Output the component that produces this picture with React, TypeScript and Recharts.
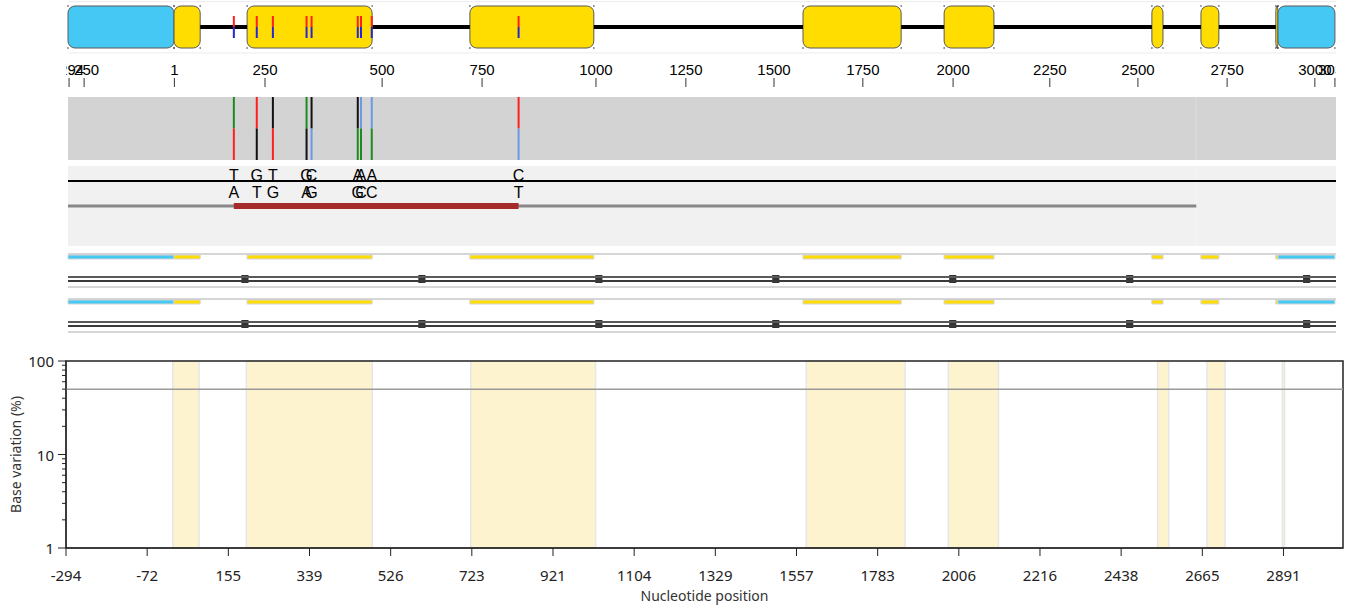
import React from 'react';
import {
  ComposedChart,
  XAxis,
  YAxis,
  ReferenceArea,
  ReferenceLine,
  ReferenceDot,
  Label,
} from 'recharts';

// every track shares one x scale: alignment columns (gaps included)
const ALIGN_END = 3540;

const utrExons: [number, number][] = [[0, 296], [3378, 3537]];
const cdsExons: [number, number][] = [
  [296, 369], [500, 849], [1122, 1468], [2052, 2326],
  [2446, 2585], [3026, 3057], [3163, 3213], [3372, 3378],
];

const variantCols = [463, 527, 572, 666, 680, 809, 818, 848, 1258];
const refBases = ['T', 'G', 'T', 'G', 'C', 'A', 'A', 'A', 'C'];
const altBases = ['A', 'T', 'G', 'A', 'G', 'G', 'C', 'C', 'T'];

// last aligned column of the read
const readEnd = 3150;

const rulerCols = [3, 45, 297, 550, 877, 1156, 1474, 1725, 1971, 2219, 2471, 2741, 2987, 3236, 3481, 3537];
const rulerLabels = ['-294', '-250', '1', '250', '500', '750', '1000', '1250', '1500', '1750', '2000', '2250', '2500', '2750', '3000', '3030'];

const blockMarks = [494, 988, 1482, 1976, 2470, 2964, 3458];

const posCols = [0, 225, 450, 675, 900, 1125, 1350, 1575, 1800, 2025, 2250, 2475, 2700, 2925, 3150, 3375];
const posLabels = ['-294', '-72', '155', '339', '526', '723', '921', '1104', '1329', '1557', '1783', '2006', '2216', '2438', '2665', '2891'];

const yTicks = [1, 2, 3, 4, 5, 6, 7, 8, 9, 10, 20, 30, 40, 50, 60, 70, 80, 90, 100];
const yMajor = [1, 10, 100];
const variationCutoff = 50;

const W = 1349;
const YELLOW = '#ffdd00';
const BLUE = '#45c8f3';
const ARIAL = '"Liberation Sans", Arial, sans-serif';
const baseColor: Record<string, string> = { A: '#1f8a1f', C: '#6d98e6', G: '#111111', T: '#ff1f1f' };

const exons = [
  ...utrExons.map(([s, e]) => ({ s, e, fill: BLUE })),
  ...cdsExons.map(([s, e]) => ({ s, e, fill: YELLOW })),
].sort((a, b) => a.s - b.s);

const introns = exons.slice(1)
  .map((ex, i) => [exons[i].e, ex.s])
  .filter(([a, b]) => b > a);

const roundedBox = (fill: string) => (p: any) => (
  <rect
    x={p.x}
    y={p.y}
    width={p.width}
    height={p.height}
    rx={Math.min(7, p.width / 2)}
    ry={7}
    fill={fill}
    stroke="#5a5a5a"
    strokeWidth={1}
  />
);

const letter = (base: string) => (p: any) => (
  <text x={p.cx} y={p.cy} textAnchor="middle" dominantBaseline="central" fontSize={16} fill="#000">
    {base}
  </text>
);

const hiddenAxes = (
  <>
    <XAxis type="number" dataKey="col" domain={[0, ALIGN_END]} hide allowDataOverflow />
    <YAxis type="number" domain={[0, 1]} hide allowDataOverflow />
  </>
);

const trackMargin = { top: 0, right: 13, bottom: 0, left: 68 };

function GeneModel() {
  return (
    <ComposedChart width={W} height={54} margin={trackMargin}>
      {hiddenAxes}
      <ReferenceLine y={0.97} stroke="#ececec" />
      <ReferenceLine y={0.02} stroke="#ececec" />
      {introns.map(([a, b]) => (
        <ReferenceLine key={`i${a}`} segment={[{ x: a, y: 0.5 }, { x: b, y: 0.5 }]} stroke="#000" strokeWidth={4} />
      ))}
      {exons.map((ex) => (
        <ReferenceArea key={`e${ex.s}`} x1={ex.s} x2={ex.e} y1={0.111} y2={0.889} shape={roundedBox(ex.fill)} />
      ))}
      {exons.flatMap((ex) => [ex.s, ex.e]).flatMap((c, i) => [
        <ReferenceDot key={`dt${i}`} x={c} y={0.889} r={0.8} fill="#333" stroke="none" />,
        <ReferenceDot key={`db${i}`} x={c} y={0.111} r={0.8} fill="#333" stroke="none" />,
      ])}
      {variantCols.flatMap((c) => [
        <ReferenceLine key={`vr${c}`} segment={[{ x: c, y: 0.5 }, { x: c, y: 0.704 }]} stroke="#ff2020" strokeWidth={2} />,
        <ReferenceLine key={`vb${c}`} segment={[{ x: c, y: 0.296 }, { x: c, y: 0.5 }]} stroke="#2626d9" strokeWidth={2} />,
      ])}
    </ComposedChart>
  );
}

function Ruler() {
  return (
    <ComposedChart width={W} height={40} margin={{ top: 2, right: 13, bottom: 0, left: 68 }}>
      <XAxis
        orientation="top"
        type="number"
        dataKey="col"
        domain={[0, ALIGN_END]}
        ticks={rulerCols}
        interval={0}
        height={30}
        axisLine={false}
        tickSize={9}
        tickMargin={3}
        stroke="#333"
        tick={{ fill: '#000', fontSize: 15 }}
        tickFormatter={(v: number) => rulerLabels[rulerCols.indexOf(v)]}
        allowDataOverflow
      />
      <YAxis type="number" domain={[0, 1]} hide allowDataOverflow />
      <ReferenceArea x1={0} x2={ALIGN_END} y1={0} y2={1} fill="none" stroke="none" />
    </ComposedChart>
  );
}

function VariantTrack() {
  return (
    <ComposedChart width={W} height={63} margin={trackMargin}>
      {hiddenAxes}
      <ReferenceArea x1={0} x2={ALIGN_END} y1={0} y2={1} fill="#d3d3d3" fillOpacity={1} stroke="none" />
      <ReferenceLine x={readEnd} stroke="#dadada" strokeWidth={1.5} />
      {variantCols.flatMap((c, i) => [
        <ReferenceLine key={`t${c}`} segment={[{ x: c, y: 0.5 }, { x: c, y: 1 }]} stroke={baseColor[altBases[i]]} strokeWidth={2} />,
        <ReferenceLine key={`b${c}`} segment={[{ x: c, y: 0 }, { x: c, y: 0.5 }]} stroke={baseColor[refBases[i]]} strokeWidth={2} />,
      ])}
    </ComposedChart>
  );
}

function ReadTrack() {
  return (
    <ComposedChart width={W} height={80} margin={trackMargin}>
      {hiddenAxes}
      <ReferenceArea x1={0} x2={ALIGN_END} y1={0} y2={1} fill="#f1f1f1" fillOpacity={1} stroke="none" />
      <ReferenceLine x={readEnd} stroke="#f4f4f4" strokeWidth={1.5} />
      <ReferenceLine y={0.8125} stroke="#000" strokeWidth={2} />
      <ReferenceLine segment={[{ x: 0, y: 0.5 }, { x: readEnd, y: 0.5 }]} stroke="#888" strokeWidth={3} />
      <ReferenceLine
        segment={[{ x: variantCols[0], y: 0.5 }, { x: variantCols[variantCols.length - 1], y: 0.5 }]}
        stroke="#a52a2a"
        strokeWidth={6}
      />
      {variantCols.flatMap((c, i) => [
        <ReferenceDot key={`r${c}`} x={c} y={0.88} r={0} shape={letter(refBases[i])} />,
        <ReferenceDot key={`a${c}`} x={c} y={0.675} r={0} shape={letter(altBases[i])} />,
      ])}
    </ComposedChart>
  );
}

function FeatureRow() {
  return (
    <ComposedChart width={W} height={36} margin={trackMargin}>
      {hiddenAxes}
      <ReferenceLine y={0.972} stroke="#c8c8c8" strokeWidth={1.5} />
      {exons.map((ex) => (
        <ReferenceArea key={`f${ex.s}`} x1={ex.s} x2={ex.e} y1={0.833} y2={0.944} fill={ex.fill} fillOpacity={1} stroke="#d4d4d4" strokeWidth={1} />
      ))}
      <ReferenceLine y={0.333} stroke="#5a5a5a" strokeWidth={2} />
      <ReferenceLine y={0.222} stroke="#3a3a3a" strokeWidth={2} />
      {blockMarks.map((c) => (
        <ReferenceArea key={`m${c}`} x1={c - 10} x2={c + 10} y1={0.167} y2={0.389} fill="#333" fillOpacity={1} stroke="none" />
      ))}
      <ReferenceLine y={0.056} stroke="#c8c8c8" strokeWidth={1.5} />
    </ComposedChart>
  );
}

const LogTick = (props: any) => {
  const { x, y, payload } = props;
  const major = yMajor.includes(payload.value);
  return (
    <g>
      <line x1={x - (major ? 8 : 4)} x2={x} y1={y} y2={y} stroke="#222" strokeWidth={1} />
      {major && (
        <text x={x - 12} y={y} textAnchor="end" dominantBaseline="central" fontSize={15} fill="#222">
          {payload.value}
        </text>
      )}
    </g>
  );
};

function VariationChart() {
  return (
    <ComposedChart width={W} height={258} margin={{ top: 9, right: 6, bottom: 0, left: 0 }}>
      <XAxis
        type="number"
        dataKey="col"
        domain={[0, ALIGN_END]}
        ticks={posCols}
        interval={0}
        height={62}
        tickSize={8}
        tickMargin={14}
        stroke="#222"
        tick={{ fill: '#222', fontSize: 15 }}
        tickFormatter={(v: number) => posLabels[posCols.indexOf(v)]}
        allowDataOverflow
      >
        <Label value="Nucleotide position" position="insideBottom" offset={9} fill="#333" fontSize={14} />
      </XAxis>
      <YAxis
        type="number"
        scale="log"
        domain={[1, 100]}
        ticks={yTicks}
        interval={0}
        width={66}
        tickSize={0}
        tickMargin={0}
        tickLine={false}
        stroke="#222"
        tick={<LogTick />}
        allowDataOverflow
        label={{
          value: 'Base variation (%)',
          angle: -90,
          position: 'insideLeft',
          offset: 16,
          style: { textAnchor: 'middle' },
          fill: '#333',
          fontSize: 14,
        }}
      />
      {cdsExons.map(([s, e]) => (
        <ReferenceArea key={`c${s}`} x1={s} x2={e} y1={1} y2={100} fill="#fdf4cf" fillOpacity={1} stroke="#e6e6e6" strokeWidth={1.5} />
      ))}
      <ReferenceLine y={variationCutoff} stroke="#9a9a9a" strokeWidth={1.5} />
      <ReferenceArea x1={0} x2={ALIGN_END} y1={1} y2={100} fill="none" stroke="#222" strokeWidth={1.5} />
    </ComposedChart>
  );
}

export default function App() {
  const abs = (top: number): React.CSSProperties => ({ position: 'absolute', left: 0, top });
  const mask = (left: number, width: number): React.CSSProperties => ({
    position: 'absolute', left, top: 55, width, height: 40, background: '#fff',
  });
  return (
    <div style={{ position: 'relative', width: W, height: 610, background: '#fff', overflow: 'hidden' }}>
      <style>{'body{margin:0}'}</style>
      <div style={{ ...abs(0), fontFamily: ARIAL }}>
        <GeneModel />
      </div>
      <div style={{ ...abs(55), fontFamily: ARIAL }}>
        <Ruler />
      </div>
      {/* the ruler's labels are cut at the track edges */}
      <div style={mask(0, 66)} />
      <div style={mask(1336, 13)} />
      <div style={abs(97)}>
        <VariantTrack />
      </div>
      <div style={{ ...abs(166), fontFamily: ARIAL }}>
        <ReadTrack />
      </div>
      <div style={abs(253)}>
        <FeatureRow />
      </div>
      <div style={abs(298)}>
        <FeatureRow />
      </div>
      <div style={{ ...abs(352), fontFamily: '"Noto Sans", "Open Sans", sans-serif' }}>
        <VariationChart />
      </div>
    </div>
  );
}
